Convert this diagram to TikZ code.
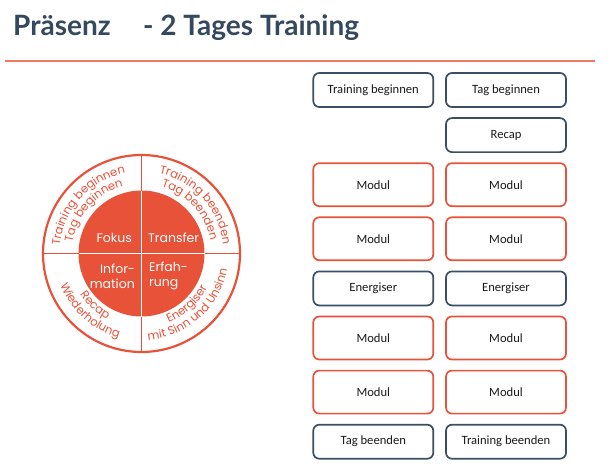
\documentclass[tikz,border=0pt]{standalone}
\usepackage{fontspec}
\usepackage{xcolor}
\usepackage{tikz}
\usetikzlibrary{positioning,decorations.text}
\setmainfont{Carlito}
\newfontfamily\titlefont{Lato}
\newfontfamily\ringfont{Poppins}
\definecolor{titleslate}{RGB}{52,72,94}
\definecolor{boxslate}{RGB}{58,79,99}
\definecolor{brandred}{RGB}{232,82,56}
\definecolor{rulesalmon}{RGB}{238,120,98}

\begin{document}
\begin{tikzpicture}[
    x=1pt, y=1pt,
    node distance=9.4pt,
    darkbox/.style={rectangle, draw=boxslate, line width=1.7pt, rounded corners=6pt, minimum width=120pt, minimum height=34pt, font=\fontsize{12.6}{14}\selectfont, text=black!90},
    modbox/.style={darkbox, draw=brandred, minimum height=43pt},
    corelabel/.style={inner sep=0pt, text=white, font=\ringfont\fontsize{12.5}{15.3}\selectfont},
    ringtext/.style={decorate, decoration={text along path, text align=center, text={|\ringfont\fontsize{11.6}{13}\selectfont\color{brandred}|#1}}}
]
\useasboundingbox (0,0) rectangle (610,-468);

% === TITLE ===
\node[anchor=base west, inner sep=0pt, font=\titlefont\bfseries\fontsize{28}{30}\selectfont, text=titleslate] (title_a) at (13,-36) {Präsenz};
\node[anchor=base west, inner sep=0pt, font=\titlefont\bfseries\fontsize{28}{30}\selectfont, text=titleslate] (title_b) at (143,-36) {- 2 Tages Training};
\coordinate (rule_l) at (5,-60.5);
\coordinate (rule_r) at (595,-62.5);
\fill[rulesalmon] (rule_l) rectangle (rule_r);

% === CIRCLE (left) ===
\node[circle, draw=brandred, line width=2.2pt, minimum size=197pt, inner sep=0pt, outer sep=0pt] (ring) at (141.5,-253.5) {};
\draw[brandred, line width=1.6pt] (ring.west) -- (ring.east);
\draw[brandred, line width=1.6pt] (ring.north) -- (ring.south);
\node[circle, fill=brandred, minimum size=126pt, inner sep=0pt, outer sep=0pt] (core) at (ring.center) {};
\draw[white, line width=1.6pt] (core.west) -- (core.east);
\draw[white, line width=1.6pt] (core.north) -- (core.south);

\node[corelabel, anchor=base east] (fokus) at (132,-242.5) {Fokus};
\node[corelabel, anchor=base west] (transfer) at (148,-242.5) {Transfer};
\node[corelabel, anchor=east, align=right] (info) at (135,-276) {Infor-\\mation};
\node[corelabel, anchor=west, align=left] (erfahrung) at (149,-276) {Erfah-\\rung};

\path[ringtext={Training beginnen}] ([shift={(184:82)}]ring.center) arc[start angle=184, end angle=92, radius=82];
\path[ringtext={Tag beginnen}] ([shift={(184:70)}]ring.center) arc[start angle=184, end angle=92, radius=70];
\path[ringtext={Training beenden}] ([shift={(88:82)}]ring.center) arc[start angle=88, end angle=-4, radius=82];
\path[ringtext={Tag beenden}] ([shift={(88:70)}]ring.center) arc[start angle=88, end angle=-4, radius=70];
\path[ringtext={Recap}] ([shift={(183:74)}]ring.center) arc[start angle=183, end angle=273, radius=74];
\path[ringtext={Wiederholung}] ([shift={(183:87)}]ring.center) arc[start angle=183, end angle=273, radius=87];
\path[ringtext={Energiser}] ([shift={(267:74)}]ring.center) arc[start angle=267, end angle=357, radius=74];
\path[ringtext={mit Sinn und Unsinn}] ([shift={(267:87)}]ring.center) arc[start angle=267, end angle=357, radius=87];

% === DAY 2 (right column) ===
\node[darkbox] (tag_start) at (506,-90) {Tag beginnen};
\node[darkbox, below=of tag_start] (recap) {Recap};
\node[modbox, below=of recap] (mod_r1) {Modul};
\node[modbox, below=of mod_r1] (mod_r2) {Modul};
\node[darkbox, below=of mod_r2] (energy_r) {Energiser};
\node[modbox, below=of energy_r] (mod_r3) {Modul};
\node[modbox, below=of mod_r3] (mod_r4) {Modul};
\node[darkbox, below=of mod_r4] (train_end) {Training beenden};

% === DAY 1 (left column) ===
\node[darkbox, left=11pt of tag_start] (train_start) {Training beginnen};
\node[modbox, left=11pt of mod_r1] (mod_l1) {Modul};
\node[modbox, left=11pt of mod_r2] (mod_l2) {Modul};
\node[darkbox, left=11pt of energy_r] (energy_l) {Energiser};
\node[modbox, left=11pt of mod_r3] (mod_l3) {Modul};
\node[modbox, left=11pt of mod_r4] (mod_l4) {Modul};
\node[darkbox, left=11pt of train_end] (tag_end) {Tag beenden};

\end{tikzpicture}
\end{document}
